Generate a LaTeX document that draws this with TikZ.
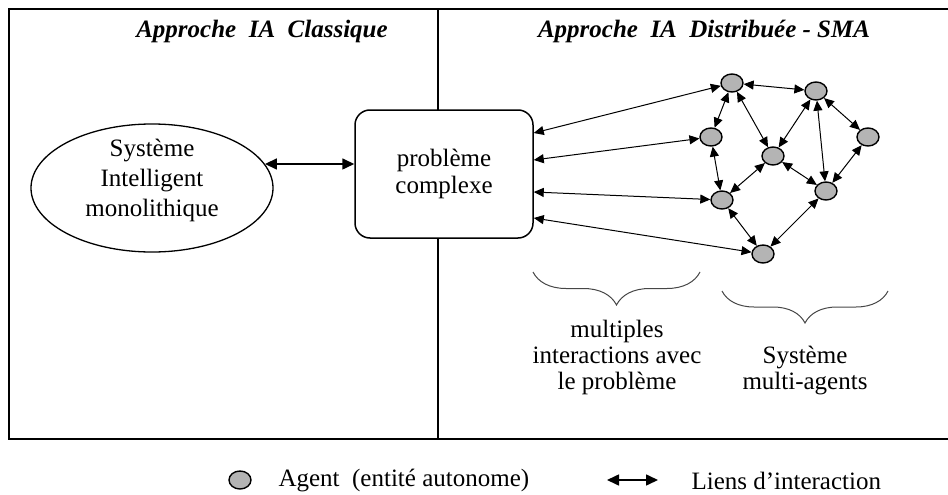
\documentclass[tikz,border=0pt]{standalone}
\usepackage{fontspec}
\setmainfont{Liberation Serif}
\usepackage{tikz}
\usetikzlibrary{arrows.meta, positioning, shapes.geometric, decorations.pathreplacing}
\definecolor{agentgray}{RGB}{180,180,180}
\definecolor{bracegray}{RGB}{70,70,70}

\begin{document}
\begin{tikzpicture}[x=1pt,y=-1pt,
      font=\fontsize{25}{27}\selectfont,
      link/.style={{Triangle[length=10pt,width=9pt]}-{Triangle[length=10pt,width=9pt]},line width=1pt},
      biglink/.style={{Triangle[length=12pt,width=11pt]}-{Triangle[length=12pt,width=11pt]},line width=1.6pt},
      agent/.style={ellipse,draw,line width=1.4pt,fill=agentgray,
                    minimum width=22pt,minimum height=18pt,inner sep=0pt},
      titletxt/.style={font=\fontsize{25}{28}\selectfont\bfseries\itshape},
      probbox/.style={draw,line width=1.5pt,fill=white,rounded corners=15pt,
                      minimum width=178pt,minimum height=128pt,align=center},
      sysell/.style={ellipse,draw,line width=1.3pt,minimum width=242pt,minimum height=128pt},
      bracedec/.style={draw=bracegray,line width=1pt,
                       decorate,decoration={brace,mirror,amplitude=#1}}]
    \useasboundingbox (0,0) rectangle (948,495);
    % frame and separation
    \draw[line width=2.2pt] (9,9) rectangle (955,439);
    \draw[line width=1.6pt] (438,9) -- (438,439);
    \node[titletxt] (tleft) at (262,31) {Approche~~IA~~Classique};
    \node[titletxt] (tright) at (704,31) {Approche~~IA~~Distribuée - SMA};

    % classic approach
    \node[sysell] (sys) at (152,188) {};
    \node[align=center,font=\fontsize{25}{30}\selectfont] (systxt) at (152,180)
      {Système\\Intelligent\\monolithique};
    \node[probbox] (box) at (444,174) {problème\\complexe};
    \draw[biglink] (sys.12) -- (sys.12 -| box.west);

    % agents
    \node[agent] (a1) at (732,83) {};
    \node[agent] (a2) at (816,91) {};
    \node[agent] (a3) at (711,137) {};
    \node[agent] (a4) at (868,137) {};
    \node[agent] (a5) at (773,156) {};
    \node[agent] (a6) at (722,200) {};
    \node[agent] (a7) at (826,191) {};
    \node[agent] (a8) at (763,254) {};
    \foreach \u/\v in {a1/a2,a1/a3,a1/a5,a2/a5,a2/a4,a2/a7,
                       a3/a6,a5/a6,a5/a7,a4/a7,a6/a8,a7/a8}
      \draw[link] (\u) -- (\v);
    \draw[link] ([yshift=41pt]box.east) -- (a1);
    \draw[link] ([yshift=14pt]box.east) -- (a3);
    \draw[link] ([yshift=-18pt]box.east) -- (a6);
    \draw[link] ([yshift=-44pt]box.east) -- (a8);

    % braces
    \coordinate (b1l) at (533,272);
    \coordinate (b1r) at (700,272);
    \coordinate (b2l) at (722,291);
    \coordinate (b2r) at (888,291);
    \draw[bracedec=33pt] (b1l) -- (b1r);
    \draw[bracedec=32pt] (b2l) -- (b2r);
    \node[align=center,font=\fontsize{25}{26}\selectfont] (multtxt) at (617,357)
      {multiples\\interactions avec\\le problème};
    \node[align=center,font=\fontsize{25}{26}\selectfont] (smatxt) at (805,371)
      {Système\\multi-agents};

    % legend
    \node[agent] (legagent) at (240,480) {};
    \node[anchor=west] (legagenttxt) at (275,481) {Agent~~(entité autonome)};
    \coordinate (la) at (607,480);
    \coordinate (lb) at (658,480);
    \draw[biglink] (la) -- (lb);
    \node[anchor=west] (legliens) at (688,481) {Liens d’interaction};
  \end{tikzpicture}
\end{document}
